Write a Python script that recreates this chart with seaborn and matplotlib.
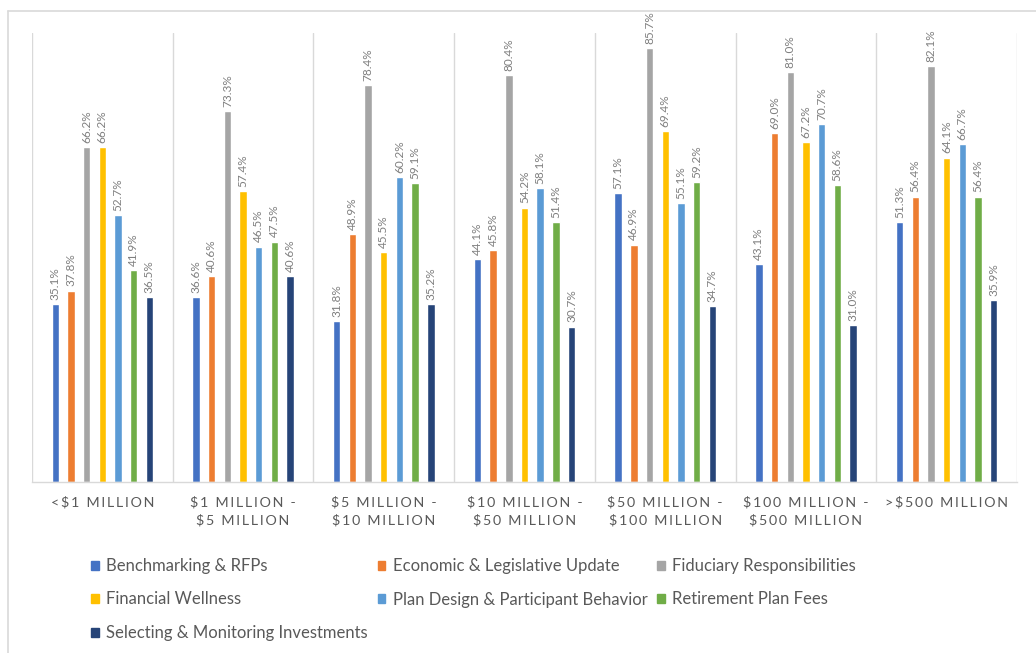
import matplotlib
matplotlib.use("Agg")
import matplotlib.pyplot as plt
from matplotlib.lines import Line2D
import pandas as pd
import seaborn as sns

# Plan size categories (x axis)
plan_sizes = [
    "<$1 MILLION",
    "$1 MILLION -\n$5 MILLION",
    "$5 MILLION -\n$10 MILLION",
    "$10 MILLION -\n$50 MILLION",
    "$50 MILLION -\n$100 MILLION",
    "$100 MILLION -\n$500 MILLION",
    ">$500 MILLION",
]

# Topics (hue)
topics = [
    "Benchmarking & RFPs",
    "Economic & Legislative Update",
    "Fiduciary Responsibilities",
    "Financial Wellness",
    "Plan Design & Participant Behavior",
    "Retirement Plan Fees",
    "Selecting & Monitoring Investments",
]

# Share of respondents per topic (%), one list per plan size
under_1m = [35.1, 37.8, 66.2, 66.2, 52.7, 41.9, 36.5]
from_1m_to_5m = [36.6, 40.6, 73.3, 57.4, 46.5, 47.5, 40.6]
from_5m_to_10m = [31.8, 48.9, 78.4, 45.5, 60.2, 59.1, 35.2]
from_10m_to_50m = [44.1, 45.8, 80.4, 54.2, 58.1, 51.4, 30.7]
from_50m_to_100m = [57.1, 46.9, 85.7, 69.4, 55.1, 59.2, 34.7]
from_100m_to_500m = [43.1, 69.0, 81.0, 67.2, 70.7, 58.6, 31.0]
over_500m = [51.3, 56.4, 82.1, 64.1, 66.7, 56.4, 35.9]

values_by_size = [under_1m, from_1m_to_5m, from_5m_to_10m, from_10m_to_50m,
                  from_50m_to_100m, from_100m_to_500m, over_500m]

colors = ["#4472C4", "#ED7D31", "#A5A5A5", "#FFC000", "#5B9BD5", "#70AD47", "#264478"]

rows = []
for size, vals in zip(plan_sizes, values_by_size):
    for topic, v in zip(topics, vals):
        rows.append({"size": size, "topic": topic, "pct": v})
df = pd.DataFrame(rows)

sns.set_theme(style="white")
plt.rcParams["font.family"] = ["Lato", "DejaVu Sans"]

TEXT = "#595959"
GRID = "#D9D9D9"

fig = plt.figure(figsize=(10.36, 6.53), dpi=100)
ax = fig.add_axes([32 / 1036, 1 - 482 / 653, 985 / 1036, 449 / 653])

sns.barplot(data=df, x="size", y="pct", hue="topic", order=plan_sizes,
            hue_order=topics, palette=colors, width=0.78, gap=0.53,
            errorbar=None, legend=False, ax=ax, saturation=1)

for container in ax.containers:
    ax.bar_label(container, fmt="%.1f%%", rotation=90, padding=3,
                 fontsize=8.5, color="#7F7F7F")

ax.set_xlim(-0.5, len(plan_sizes) - 0.5)
ax.set_ylim(0, 88.7)
ax.set_xlabel("")
ax.set_ylabel("")
ax.set_yticks([])

# group separators
for b in range(len(plan_sizes) + 1):
    ax.axvline(b - 0.5, color=GRID, lw=1, zorder=0)

for side in ["top", "left", "right"]:
    ax.spines[side].set_visible(False)
ax.spines["bottom"].set_color(GRID)
ax.spines["bottom"].set_linewidth(1)


def spaced(label):
    # letter-spaced category labels
    return "\n".join("\u2009".join(line) for line in label.split("\n"))


ax.set_xticks(range(len(plan_sizes)))
ax.set_xticklabels([spaced(s) for s in plan_sizes], fontsize=10.3, color=TEXT,
                   linespacing=1.55)
ax.tick_params(axis="x", length=0, pad=10)

# legend in row-major order across three columns
order = [0, 3, 6, 1, 4, 2, 5]
handles = [plt.Rectangle((0, 0), 1, 1, color=colors[i]) for i in order]
labels = [topics[i] for i in order]
fig.legend(handles, labels, ncol=3, loc="upper left",
           bbox_to_anchor=(76 / 1036, 1 - 543 / 653), frameon=False,
           fontsize=12, labelcolor=TEXT, handlelength=0.45, handleheight=0.45,
           handletextpad=0.45, columnspacing=0.6, labelspacing=1.05)

# chart frame
fig.add_artist(Line2D([8 / 1036, 1], [1 - 11 / 653, 1 - 11 / 653],
                      transform=fig.transFigure, color=GRID, lw=1.2))
fig.add_artist(Line2D([8 / 1036, 8 / 1036], [0, 1 - 11 / 653],
                      transform=fig.transFigure, color=GRID, lw=1.2))

fig.savefig("out.png", dpi=100, facecolor="white")
